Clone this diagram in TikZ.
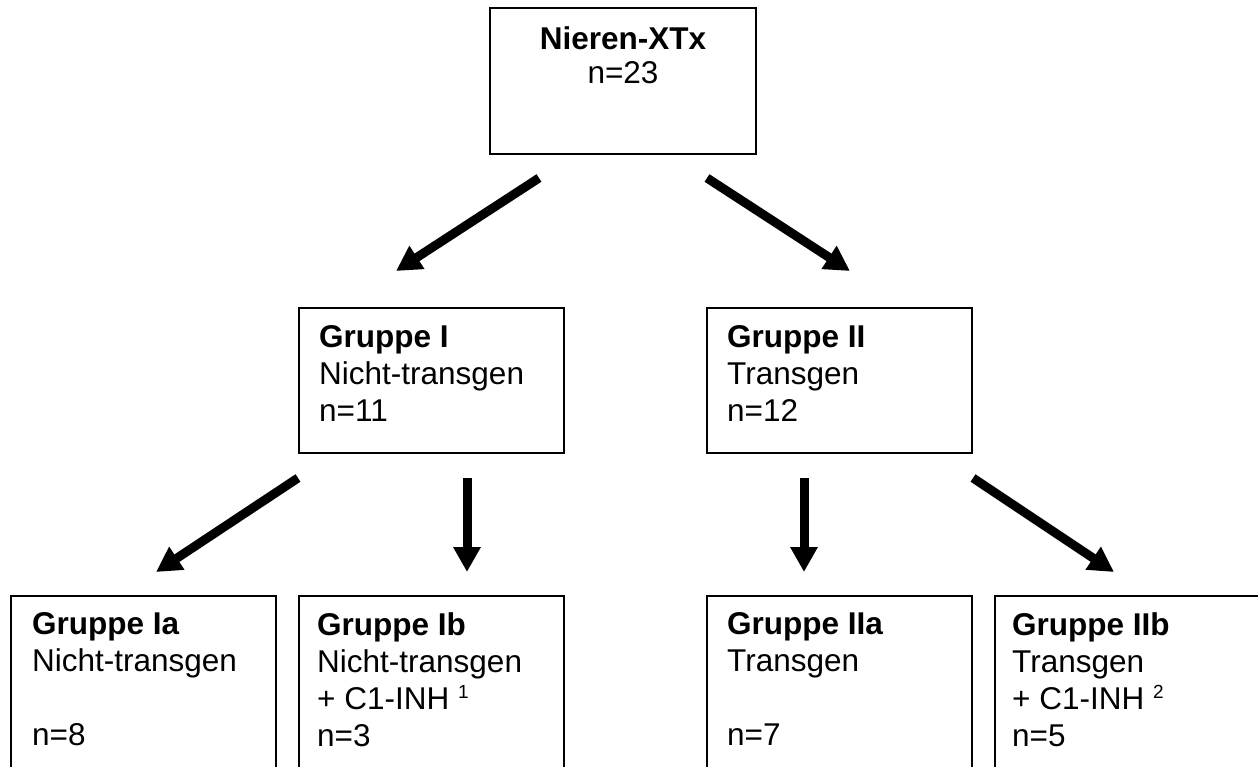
\documentclass[tikz,border=0pt]{standalone}
\usepackage{fontspec}
\setmainfont{Liberation Sans}
\usetikzlibrary{arrows.meta}
\newcommand\supnum[1]{\raisebox{11pt}{\fontsize{19}{19}\selectfont #1}}
\begin{document}
\begin{tikzpicture}[x=1pt,y=-1pt,
  box/.style={draw=black, line width=2pt, rectangle, inner sep=0pt,
    minimum width=265pt, minimum height=145pt, anchor=north west},
  txt/.style={inner sep=0pt, align=left, anchor=north west,
    font=\fontsize{31.5}{37}\selectfont},
  arr/.style={line width=9pt, -{Triangle[width=26pt,length=25pt]}}]
\useasboundingbox (0,0) rectangle (1258,767);
\clip (0,0) rectangle (1258,767);

% boxes
\node[box, minimum width=266pt, minimum height=146pt] (top) at (489,7) {};
\node[box] (g1) at (298,307) {};
\node[box] (g2) at (706,307) {};
\node[box, minimum height=250pt] (g1a) at (10,595) {};
\node[box, minimum height=250pt] (g1b) at (298,595) {};
\node[box, minimum height=250pt] (g2a) at (706,595) {};
\node[box, minimum height=250pt] (g2b) at (994,595) {};

% texts
\node[txt, align=center, anchor=north] (topt) at ([yshift=-19.5pt]top.north)
  {\bfseries Nieren-XTx\\[-3pt]n=23};
\node[txt] (g1t) at ([xshift=21pt,yshift=-18.5pt]g1.north west)
  {\bfseries Gruppe I\\Nicht-transgen\\n=11};
\node[txt] (g2t) at ([xshift=21pt,yshift=-18.5pt]g2.north west)
  {\bfseries Gruppe II\\Transgen\\n=12};
\node[txt] (g1at) at ([xshift=22pt,yshift=-17.5pt]g1a.north west)
  {\bfseries Gruppe Ia\\Nicht-transgen\\[37pt]n=8};
\node[txt] (g1bt) at ([xshift=19pt,yshift=-17.5pt]g1b.north west)
  {\bfseries Gruppe Ib\\Nicht-transgen\\+ C1-INH \supnum{1}\\n=3};
\node[txt] (g2at) at ([xshift=21pt,yshift=-17.5pt]g2a.north west)
  {\bfseries Gruppe IIa\\Transgen\\[37pt]n=7};
\node[txt] (g2bt) at ([xshift=18pt,yshift=-17.5pt]g2b.north west)
  {\bfseries Gruppe IIb\\Transgen\\+ C1-INH \supnum{2}\\n=5};

% arrows
\draw[arr] ([xshift=-84pt,yshift=-23pt]top.south) -- ([xshift=-35.5pt,yshift=36pt]g1.north);
\draw[arr] ([xshift=84pt,yshift=-23pt]top.south) -- ([xshift=10.5pt,yshift=36pt]g2.north);
\draw[arr] ([yshift=-24pt]g1.south west) -- ([xshift=12.5pt,yshift=23pt]g1a.north);
\draw[arr] ([xshift=35.5pt,yshift=-24pt]g1.south) -- ([xshift=35.5pt,yshift=23pt]g1b.north);
\draw[arr] ([xshift=-35.5pt,yshift=-24pt]g2.south) -- ([xshift=-35.5pt,yshift=23pt]g2a.north);
\draw[arr] ([yshift=-24pt]g2.south east) -- ([xshift=-13.5pt,yshift=23pt]g2b.north);
\end{tikzpicture}
\end{document}
